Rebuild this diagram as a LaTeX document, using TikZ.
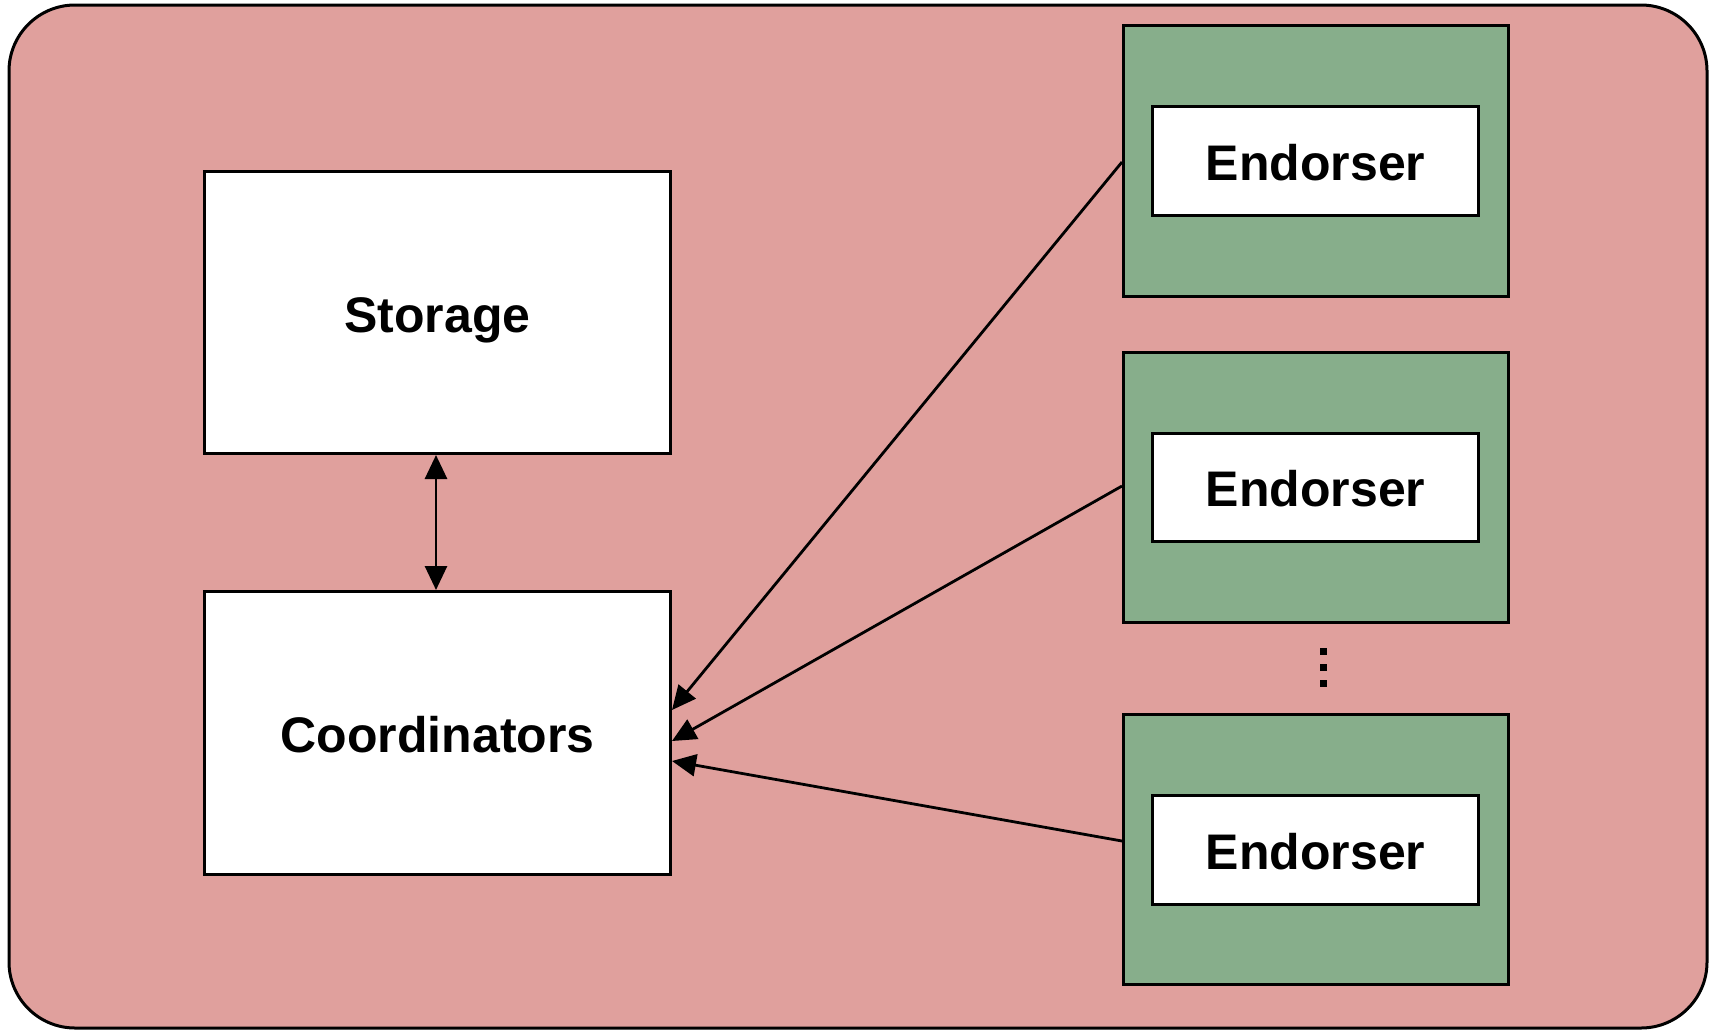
\documentclass[tikz,border=0pt]{standalone}
\usepackage{fontspec}
\setmainfont{Liberation Sans}
\usetikzlibrary{arrows.meta}
\definecolor{outerpink}{HTML}{E0A09D}
\definecolor{boxgreen}{HTML}{87AE8B}
\begin{document}
\begin{tikzpicture}[x=1pt,y=-1pt,
  box/.style={draw=black,line width=3pt,fill=white,inner sep=0pt,anchor=north west},
  gbox/.style={draw=black,line width=3pt,fill=boxgreen,inner sep=0pt,anchor=north west},
  lbl/.style={font=\fontsize{50}{60}\selectfont\bfseries,text depth=0pt,yshift=-1pt},
  conn/.style={line width=2.8pt,-{Triangle[length=24pt,width=22pt]}}]
\useasboundingbox (0,0) rectangle (1718,1034);
\draw[line width=3pt,fill=outerpink,rounded corners=66pt] (9,5) rectangle (1707,1028);
% left boxes
\node[box,minimum width=466pt,minimum height=282pt] (storage) at (203,170) {};
\node[lbl,yshift=-2pt] at (storage.center) {Storage};
\node[box,minimum width=466pt,minimum height=283pt] (coord) at (203,590) {};
\node[lbl] at (coord.center) {Coordinators};
% green boxes
\node[gbox,minimum width=385pt,minimum height=271pt] (g1) at (1122,24) {};
\node[gbox,minimum width=385pt,minimum height=270pt] (g2) at (1122,351) {};
\node[gbox,minimum width=385pt,minimum height=270pt] (g3) at (1122,713) {};
\node[box,minimum width=326pt,minimum height=109pt] (e1) at (1151,105) {};
\node[box,minimum width=326pt,minimum height=108pt] (e2) at (1151,432) {};
\node[box,minimum width=326pt,minimum height=109pt] (e3) at (1151,794) {};
\node[lbl] at (e1.center) {Endorser};
\node[lbl] at (e2.center) {Endorser};
\node[lbl] at (e3.center) {Endorser};
% dots
\foreach \yy in {651,667,683} {
  \fill (1320,\yy-3.5) rectangle (1327,\yy+3.5);
}
% connectors
\coordinate (s1) at (1122,162);
\coordinate (s2) at (1122,486);
\coordinate (s3) at (1122,841);
\draw[conn] (g1.west |- s1) -- (coord.east |- 0,710);
\draw[conn] (g2.west |- s2) -- (coord.east |- 0,741);
\draw[conn] (g3.west |- s3) -- (coord.east |- 0,761);
\draw[line width=2.8pt,{Triangle[length=24pt,width=22pt]}-{Triangle[length=24pt,width=22pt]}] (storage.south -| 436,0) -- (coord.north -| 436,0);
\end{tikzpicture}
\end{document}
